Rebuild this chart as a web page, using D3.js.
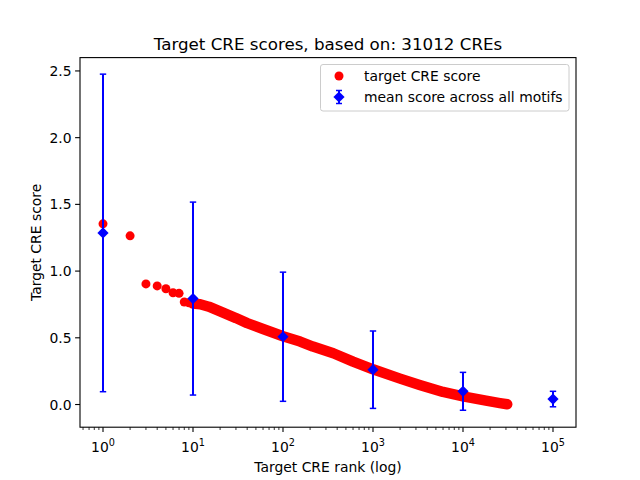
<!DOCTYPE html>
<html><head><meta charset="utf-8">
<script src="https://cdn.jsdelivr.net/npm/d3@7"></script>
<style>body{margin:0;background:#fff}svg{display:block}text{font-family:"DejaVu Sans",sans-serif}</style>
</head><body>
<script>
// target CRE score (rank, score)
const cfgRanks  = [1, 2, 3, 4, 5, 6, 7, 8, 9, 10, 12, 15, 20, 30, 40, 60, 100, 155, 215, 362, 600, 1000, 2000, 3300, 6000, 10000, 18000, 25700, 31012];
const cfgScores = [1.354, 1.264, 0.904, 0.889, 0.868, 0.838, 0.833, 0.768, 0.762, 0.756, 0.751, 0.733, 0.698, 0.648, 0.61, 0.566, 0.512, 0.472, 0.434, 0.384, 0.322, 0.264, 0.194, 0.147, 0.094, 0.061, 0.029, 0.011, 0.002];
// mean score across all motifs
const meanRanks  = [1, 10, 100, 1000, 10000, 100000];
const meanScores = [1.286, 0.794, 0.508, 0.261, 0.099, 0.041];
const meanErrors = [1.19, 0.723, 0.484, 0.29, 0.142, 0.058];
const yTicks = [0.0, 0.5, 1.0, 1.5, 2.0, 2.5];
const xTickExps = [0, 1, 2, 3, 4, 5];
const titleText = "Target CRE scores, based on: 31012 CREs";
const xLabel = "Target CRE rank (log)";
const yLabel = "Target CRE score";
const legendLabels = ["target CRE score", "mean score across all motifs"];

const W = 640, H = 480;
const L = 80, R = 576, T = 57.6, B = 427.2;
const svg = d3.select("body").append("svg").attr("width", W).attr("height", H);

const x = d3.scaleLog().domain([Math.pow(10, -0.2556), Math.pow(10, 5.2556)]).range([L, R]);
const y = d3.scaleLinear().domain([-0.170, 2.600]).range([B, T]);

const plot = svg.append("g");
const pts = cfgRanks.map((r, i) => ({r, s: cfgScores[i]}));

// dense band of markers (rank >= 10)
const band = pts.filter(d => d.r >= 10);
plot.append("path")
  .attr("d", d3.line().x(d => x(d.r)).y(d => y(d.s))(band))
  .attr("fill", "none").attr("stroke", "#ff0000").attr("stroke-width", 10.5)
  .attr("stroke-linecap", "round").attr("stroke-linejoin", "round");
plot.selectAll("circle.cre").data(pts).join("circle").attr("class", "cre")
  .attr("cx", d => x(d.r)).attr("cy", d => y(d.s)).attr("r", 4.5).attr("fill", "#ff0000");

// error bars
const means = meanRanks.map((r, i) => ({r, m: meanScores[i], e: meanErrors[i]}));
const eb = plot.selectAll("g.eb").data(means).join("g").attr("class", "eb");
eb.append("line").attr("x1", d => x(d.r)).attr("x2", d => x(d.r))
  .attr("y1", d => y(d.m - d.e)).attr("y2", d => y(d.m + d.e))
  .attr("stroke", "#0000ff").attr("stroke-width", 2);
[-1, 1].forEach(sgn => {
  eb.append("line").attr("x1", d => x(d.r) - 3.2).attr("x2", d => x(d.r) + 3.2)
    .attr("y1", d => y(d.m + sgn * d.e)).attr("y2", d => y(d.m + sgn * d.e))
    .attr("stroke", "#0000ff").attr("stroke-width", 1.5);
});
const dia = 5.6;
eb.append("path").attr("d", d => {
  const cx = x(d.r), cy = y(d.m);
  return `M${cx},${cy - dia}L${cx + dia},${cy}L${cx},${cy + dia}L${cx - dia},${cy}Z`;
}).attr("fill", "#0000ff");

// axes frame
svg.append("rect").attr("x", L).attr("y", T).attr("width", R - L).attr("height", B - T)
  .attr("fill", "none").attr("stroke", "#000").attr("stroke-width", 1.1);

// x axis
const xAxisG = svg.append("g").attr("transform", `translate(0,${B})`);
const minor = [];
for (let e = -1; e <= 5; e++) for (let k = 2; k <= 9; k++) {
  const v = k * Math.pow(10, e);
  if (x(v) >= L && x(v) <= R) minor.push(v);
}
xAxisG.selectAll("line.minor").data(minor).join("line")
  .attr("x1", d => x(d)).attr("x2", d => x(d)).attr("y1", 0).attr("y2", 2.8)
  .attr("stroke", "#000").attr("stroke-width", 0.8);
const xt = xAxisG.selectAll("g.xt").data(xTickExps).join("g")
  .attr("transform", d => `translate(${x(Math.pow(10, d))},0)`);
xt.append("line").attr("y1", 0).attr("y2", 4.9).attr("stroke", "#000").attr("stroke-width", 1.1);
const xtt = xt.append("text").attr("y", 24.5).attr("text-anchor", "middle").attr("font-size", 13.9).attr("fill", "#000");
xtt.append("tspan").text("10");
xtt.append("tspan").attr("dy", -5.5).attr("font-size", 9.7).text(d => d);
xtt.attr("dx", 0);

// y axis
const yt = svg.append("g").selectAll("g").data(yTicks).join("g")
  .attr("transform", d => `translate(${L},${y(d)})`);
yt.append("line").attr("x1", 0).attr("x2", -4.9).attr("stroke", "#000").attr("stroke-width", 1.1);
yt.append("text").attr("x", -8.5).attr("dy", "0.36em").attr("text-anchor", "end")
  .attr("font-size", 13.9).attr("fill", "#000").text(d => d.toFixed(1));

// labels
svg.append("text").attr("x", (L + R) / 2).attr("y", 49.5).attr("text-anchor", "middle")
  .attr("font-size", 16.7).attr("fill", "#000").text(titleText);
svg.append("text").attr("x", (L + R) / 2).attr("y", 471.5).attr("text-anchor", "middle")
  .attr("font-size", 13.9).attr("fill", "#000").text(xLabel);
svg.append("text").attr("transform", `translate(40.5,${(T + B) / 2}) rotate(-90)`)
  .attr("text-anchor", "middle").attr("font-size", 13.9).attr("fill", "#000").text(yLabel);

// legend
const lg = svg.append("g");
lg.append("rect").attr("x", 320.5).attr("y", 64.5).attr("width", 248.5).attr("height", 46.5)
  .attr("rx", 2.5).attr("fill", "#fff").attr("fill-opacity", 0.8)
  .attr("stroke", "#cccccc").attr("stroke-width", 1);
lg.append("circle").attr("cx", 339).attr("cy", 76).attr("r", 4.5).attr("fill", "#ff0000");
lg.append("line").attr("x1", 339).attr("x2", 339).attr("y1", 90.5).attr("y2", 103.5)
  .attr("stroke", "#0000ff").attr("stroke-width", 2);
[90.5, 103.5].forEach(yy => lg.append("line").attr("x1", 336).attr("x2", 342).attr("y1", yy).attr("y2", yy)
  .attr("stroke", "#0000ff").attr("stroke-width", 1.5));
lg.append("path").attr("d", `M339,${97 - dia}L${339 + dia},97L339,${97 + dia}L${339 - dia},97Z`).attr("fill", "#0000ff");
lg.selectAll("text").data(legendLabels).join("text")
  .attr("x", 364).attr("y", (d, i) => 76 + i * 21).attr("dy", "0.36em")
  .attr("font-size", 13.9).attr("fill", "#000").text(d => d);
</script>
</body></html>
